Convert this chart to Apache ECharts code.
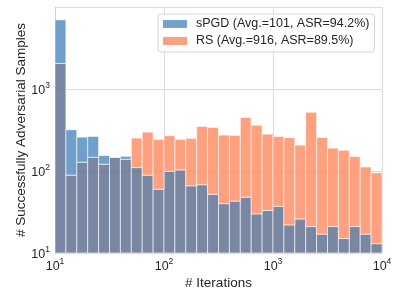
<!DOCTYPE html>
<html><head><meta charset="utf-8">
<script src="https://cdn.jsdelivr.net/npm/echarts@6/dist/echarts.min.js"></script>
<style>html,body{margin:0;padding:0;background:#fff}#c{width:399px;height:299px}</style>
</head><body><div id="c"></div>
<script>
// Histogram bin edges (log-spaced, 10 bins per decade)
const binEdges = [10, 12.589, 15.849, 19.953, 25.119, 31.623, 39.811, 50.119, 63.096, 79.433,
  100, 125.89, 158.49, 199.53, 251.19, 316.23, 398.11, 501.19, 630.96, 794.33,
  1000, 1258.9, 1584.9, 1995.3, 2511.9, 3162.3, 3981.1, 5011.9, 6309.6, 7943.3, 10000];
// Counts per bin
const spgdCounts = [6970, 318, 259, 264, 154, 148, 151, 110, 89, 60,
  99, 103, 66, 68, 52, 40, 43, 48, 30, 33,
  37, 22, 26, 21, 17, 21, 15, 21, 17, 13];
const rsCounts = [2050, 89, 128, 147, 121, 146, 139, 252, 298, 243,
  269, 243, 250, 349, 340, 274, 272, 449, 362, 282,
  264, 255, 207, 521, 257, 190, 179, 150, 112, 95];
const seriesNames = ['sPGD (Avg.=101, ASR=94.2%)', 'RS (Avg.=916, ASR=89.5%)'];
const xAxisName = '# Iterations';
const yAxisName = '# Successfully Adversarial Samples';

const TEXT = '#262626';
const FONT = "'Liberation Sans', Arial, sans-serif";
const BLUE_FILL = 'rgba(75,136,191,0.8)';
const ORANGE_FILL = 'rgba(255,136,95,0.8)';
const OVERLAP_FILL = 'rgba(89,105,140,0.8)';
const EDGE = 'rgba(255,255,255,0.6)';

const binIdx = spgdCounts.map((_, i) => [i]);

function rect(api, i, lo, hi, fill) {
  const p0 = api.coord([binEdges[i], lo]);
  const p1 = api.coord([binEdges[i + 1], hi]);
  return {
    type: 'rect',
    shape: { x: p0[0], y: p1[1], width: p1[0] - p0[0], height: p0[1] - p1[1] },
    style: { fill: fill, stroke: EDGE, lineWidth: 1 }
  };
}

function supLabel(v) {
  const e = Math.round(Math.log10(v));
  return '{b|10}{s|' + e + '}';
}
const rich = {
  b: { fontSize: 12.5, color: TEXT, fontFamily: FONT, verticalAlign: 'bottom', lineHeight: 16 },
  s: { fontSize: 8.5, color: TEXT, fontFamily: FONT, verticalAlign: 'top', lineHeight: 10 }
};

const chart = echarts.init(document.getElementById('c'), null, { renderer: 'canvas' });
chart.setOption({
  animation: false,
  backgroundColor: '#fff',
  textStyle: { fontFamily: FONT },
  grid: { left: 55, top: 7, width: 327, height: 246, containLabel: false },
  legend: {
    orient: 'vertical', left: 158, top: 14,
    padding: [3, 5, 4, 5], itemGap: 3,
    itemWidth: 24, itemHeight: 8, icon: 'rect',
    backgroundColor: '#fff', borderColor: '#d4d4d4', borderWidth: 1, borderRadius: 3,
    textStyle: { fontSize: 12.5, color: TEXT, fontFamily: FONT, lineHeight: 14, padding: [0, 0, 0, 4] },
    data: [
      { name: seriesNames[0], itemStyle: { color: '#72a2cd' } },
      { name: seriesNames[1], itemStyle: { color: '#ffa07f' } }
    ]
  },
  xAxis: {
    type: 'log', logBase: 10, min: 10, max: 10000,
    axisLine: { show: true, lineStyle: { color: '#d0d0d0', width: 1 } },
    axisTick: { show: false }, minorTick: { show: false },
    splitLine: { show: true, lineStyle: { color: '#dcdcdc', width: 1 } },
    axisLabel: { formatter: supLabel, rich: rich, margin: 4, color: TEXT },
    name: xAxisName, nameLocation: 'middle', nameGap: 23, nameMoveOverlap: false,
    nameTextStyle: { fontSize: 13.5, color: TEXT, fontFamily: FONT }
  },
  yAxis: {
    type: 'log', logBase: 10, min: 10, max: 10000,
    axisLine: { show: true, lineStyle: { color: '#d0d0d0', width: 1 } },
    axisTick: { show: false }, minorTick: { show: false },
    splitLine: { show: true, lineStyle: { color: '#dcdcdc', width: 1 } },
    axisLabel: { formatter: supLabel, rich: rich, margin: 5, color: TEXT, showMaxLabel: false },
    name: yAxisName, nameLocation: 'middle', nameGap: 27, nameRotate: 90, nameMoveOverlap: false,
    nameTextStyle: { fontSize: 13.5, color: TEXT, fontFamily: FONT }
  },
  series: [
    {
      name: seriesNames[0], type: 'custom', data: binIdx, z: 3,
      itemStyle: { color: '#72a2cd' },
      renderItem: function (params, api) {
        const i = api.value(0);
        const b = spgdCounts[i], r = rsCounts[i];
        const lo = Math.min(b, r);
        const children = [rect(api, i, 10, lo, OVERLAP_FILL)];
        if (b > r) children.push(rect(api, i, lo, b, BLUE_FILL));
        return { type: 'group', children: children };
      }
    },
    {
      name: seriesNames[1], type: 'custom', data: binIdx, z: 3,
      itemStyle: { color: '#ffa07f' },
      renderItem: function (params, api) {
        const i = api.value(0);
        const b = spgdCounts[i], r = rsCounts[i];
        if (r <= b) return null;
        return rect(api, i, b, r, ORANGE_FILL);
      }
    }
  ]
});
</script>
</body></html>
